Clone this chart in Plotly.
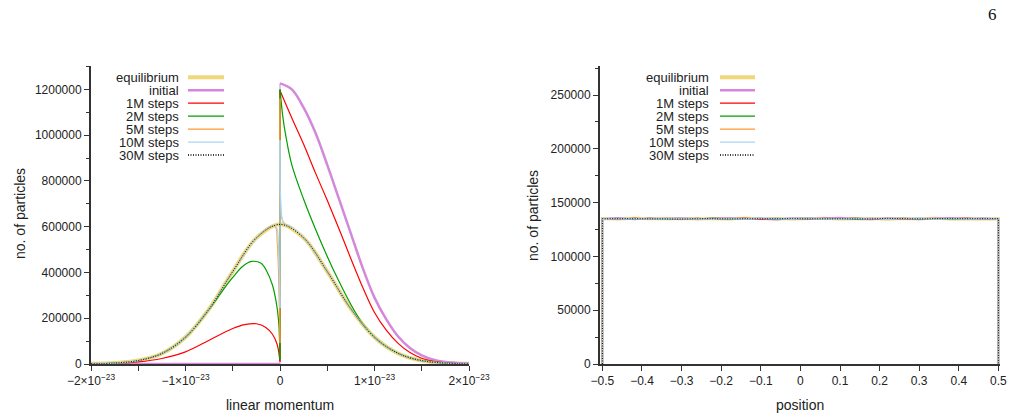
import plotly.graph_objects as go

# ---------------- left panel: momentum distribution (momentum in units of 1e-23) ----------------
eq_p = [-2.0, -1.75, -1.5, -1.25, -1.0, -0.75, -0.5, -0.25, 0.0, 0.25, 0.5, 0.75, 1.0, 1.25, 1.5, 1.75, 2.0]
eq_n = [800, 3900, 15000, 46000, 117000, 241000, 404000, 551000, 611000, 551000, 404000, 241000, 117000, 46000, 15000, 3900, 800]

init_neg_p = [-2.0, 0.0]
init_neg_n = [0, 0]
init_pos_p = [0.0, 0.125, 0.25, 0.375, 0.5, 0.625, 0.75, 0.875, 1.0, 1.125, 1.25, 1.375, 1.5, 1.625, 1.75, 1.875, 2.0]
init_pos_n = [1226000, 1200000, 1120000, 1010000, 870000, 720000, 570000, 420000, 290000, 195000, 120000, 70000, 38000, 19000, 9000, 4000, 2000]

m1_neg_p = [-2.0, -1.75, -1.5, -1.25, -1.0, -0.75, -0.5, -0.375, -0.25, -0.15, -0.08, -0.03, 0.0]
m1_neg_n = [500, 3000, 9000, 24000, 53000, 104000, 155000, 172000, 176000, 160000, 130000, 85000, 10000]
m1_pos_p = [0.0, 0.125, 0.25, 0.375, 0.5, 0.625, 0.75, 0.875, 1.0, 1.125, 1.25, 1.375, 1.5, 1.625, 1.75, 1.875, 2.0]
m1_pos_n = [1195000, 1075000, 960000, 835000, 715000, 590000, 460000, 335000, 225000, 148000, 90000, 50000, 25000, 12000, 5000, 2000, 1000]

m2_neg_p = [-2.0, -1.75, -1.5, -1.25, -1.0, -0.75, -0.6, -0.5, -0.4, -0.3, -0.2, -0.14, -0.08, -0.04, -0.015, 0.0]
m2_neg_n = [800, 3900, 15000, 46000, 117000, 239000, 325000, 378000, 425000, 448000, 440000, 405000, 345000, 270000, 190000, 20000]
m2_pos_p = [0.0, 0.03, 0.06, 0.125, 0.25, 0.375, 0.5, 0.625, 0.75, 0.875, 1.0, 1.125, 1.25, 1.375, 1.5, 1.75, 2.0]
m2_pos_n = [1200000, 1080000, 1000000, 870000, 720000, 590000, 470000, 360000, 260000, 175000, 117000, 76000, 47000, 27000, 15000, 4000, 800]

m5_neg_p = [-2.0, -1.75, -1.5, -1.25, -1.0, -0.75, -0.5, -0.25, -0.1, -0.05, -0.03, -0.018, -0.008, 0.0]
m5_neg_n = [800, 3900, 15000, 46000, 117000, 241000, 404000, 551000, 600000, 598000, 530000, 425000, 250000, 92000]
m5_pos_p = [0.0, 0.01, 0.03, 0.06, 0.1, 0.25, 0.5, 0.75, 1.0, 1.25, 1.5, 1.75, 2.0]
m5_pos_n = [1160000, 660000, 625000, 610000, 603000, 551000, 404000, 241000, 117000, 46000, 15000, 3900, 800]

m10_neg_p = [-2.0, -1.75, -1.5, -1.25, -1.0, -0.75, -0.5, -0.25, -0.1, -0.04, -0.015, 0.0]
m10_neg_n = [800, 3900, 15000, 46000, 117000, 241000, 404000, 551000, 603000, 598000, 480000, 245000]
m10_pos_p = [0.0, 0.01, 0.04, 0.1, 0.25, 0.5, 0.75, 1.0, 1.25, 1.5, 1.75, 2.0]
m10_pos_n = [978000, 700000, 612000, 604000, 551000, 404000, 241000, 117000, 46000, 15000, 3900, 800]

m30_p = [-2.0, -1.75, -1.5, -1.25, -1.0, -0.75, -0.5, -0.25, 0.0, 0.25, 0.5, 0.75, 1.0, 1.25, 1.5, 1.75, 2.0]
m30_n = [800, 3900, 15000, 46000, 117000, 241000, 404000, 551000, 610000, 551000, 404000, 241000, 117000, 46000, 15000, 3900, 800]

mom_tickvals = [-2.0, -1.0, 0.0, 1.0, 2.0]
mom_ticktext = ["\u22122\u00d710<sup>\u221223</sup>", "\u22121\u00d710<sup>\u221223</sup>", "0",
                "1\u00d710<sup>\u221223</sup>", "2\u00d710<sup>\u221223</sup>"]
mom_minor_ticks = [-1.5, -0.5, 0.5, 1.5]

# ---------------- right panel: position distribution ----------------
pos = [-0.5, -0.46, -0.42, -0.38, -0.34, -0.30, -0.26, -0.22, -0.18, -0.14, -0.10, -0.06, -0.02,
       0.02, 0.06, 0.10, 0.14, 0.18, 0.22, 0.26, 0.30, 0.34, 0.38, 0.42, 0.46, 0.5]
edge_count = 0
pos_eq = [135200, 134700, 135400, 134900, 135100, 134600, 135300, 135000, 134800, 135500, 134900, 135200, 134700,
          135100, 135400, 134800, 135000, 135300, 134600, 135200, 134900, 135400, 134800, 135100, 134700, 135000]
pos_init = [134800, 135600, 134500, 135300, 134900, 135700, 134600, 135200, 135800, 134700, 135100, 134400, 135500,
            134900, 135300, 135900, 134800, 134500, 135400, 135000, 134600, 135200, 135700, 134900, 135300, 134800]
pos_m1 = [135100, 134500, 135600, 134800, 135300, 134900, 135500, 134400, 135000, 135600, 134700, 135300, 135000,
          134600, 135400, 134900, 135700, 134800, 135200, 134500, 135300, 134900, 135100, 135600, 134800, 135200]
pos_m2 = [134900, 135400, 134700, 135500, 134600, 135200, 134900, 135600, 134800, 135100, 135500, 134700, 135200,
          135600, 134800, 135100, 134600, 135400, 135000, 135500, 134800, 135300, 134600, 135000, 135400, 134900]
pos_m5 = [135300, 134800, 135100, 134600, 135500, 135000, 134700, 135300, 135500, 134900, 135200, 135600, 134800,
          135300, 134700, 135200, 135400, 134900, 135600, 134700, 135100, 134600, 135300, 134800, 135100, 135300]
pos_m10 = [134700, 135200, 135000, 135400, 134800, 135500, 135100, 134600, 135300, 134800, 135600, 135000, 134900,
           135400, 135100, 134600, 135300, 135500, 134900, 135200, 135600, 134800, 135000, 135400, 135200, 134800]
pos_m30 = [135000, 135100, 134900, 135200, 135000, 134800, 135100, 135300, 134900, 135000, 135200, 134900, 135100,
           135000, 134800, 135200, 135100, 134900, 135300, 135000, 134900, 135100, 135200, 134900, 135000, 135100]
pos_tickvals = [-0.5, -0.4, -0.3, -0.2, -0.1, 0.0, 0.1, 0.2, 0.3, 0.4, 0.5]
pos_ticktext = ["\u22120.5", "\u22120.4", "\u22120.3", "\u22120.2", "\u22120.1", "0", "0.1", "0.2", "0.3", "0.4", "0.5"]

labels = ["equilibrium", "initial", "1M steps", "2M steps", "5M steps", "10M steps", "30M steps"]
colors = ["#f0d878", "#d488dc", "#ff0000", "#00a000", "#ff9933", "#a8d8f0", "#000000"]
widths_left = [4, 2.5, 1.2, 1.2, 1.0, 1.2, 1.0]
widths_right = [3, 2, 1, 1, 1, 1.6, 1]
DOT = "1px,1.5px"
dashes = ["solid"] * 6 + [DOT]

FONT = "Liberation Sans, Arial, Helvetica, sans-serif"
W, H = 1013, 420

fig = go.Figure()


def spline(x, y, i):
    fig.add_trace(go.Scatter(x=x, y=y, mode="lines", xaxis="x", yaxis="y", showlegend=False, hoverinfo="skip",
                             line=dict(color=colors[i], width=widths_left[i], dash=dashes[i], shape="spline", smoothing=1)))


def connector(neg_p, neg_n, pos_p, pos_n, i, w=None):
    fig.add_trace(go.Scatter(x=[neg_p[-1], pos_p[0]], y=[neg_n[-1], pos_n[0]], mode="lines", showlegend=False,
                             hoverinfo="skip",
                             line=dict(color=colors[i], width=w if w else widths_left[i], dash=dashes[i])))


# equilibrium
spline(eq_p, eq_n, 0)
# initial
spline(init_neg_p, init_neg_n, 1)
connector(init_neg_p, init_neg_n, init_pos_p, init_pos_n, 1, w=1)
spline(init_pos_p, init_pos_n, 1)
# evolving series
for i, (np_, nn, pp, pn) in enumerate([(m1_neg_p, m1_neg_n, m1_pos_p, m1_pos_n),
                                       (m2_neg_p, m2_neg_n, m2_pos_p, m2_pos_n),
                                       (m5_neg_p, m5_neg_n, m5_pos_p, m5_pos_n),
                                       (m10_neg_p, m10_neg_n, m10_pos_p, m10_pos_n)], start=2):
    spline(np_, nn, i)
    connector(np_, nn, pp, pn, i)
    spline(pp, pn, i)
spline(m30_p, m30_n, 6)

# right panel
for i, vals in enumerate([pos_eq, pos_init, pos_m1, pos_m2, pos_m5, pos_m10, pos_m30]):
    fig.add_trace(go.Scatter(x=[pos[0]] + pos + [pos[-1]], y=[edge_count] + vals + [edge_count],
                             mode="lines", xaxis="x2", yaxis="y2", showlegend=False, hoverinfo="skip",
                             line=dict(color=colors[i], width=widths_right[i], dash=dashes[i])))

ax_common = dict(showgrid=False, zeroline=False, showline=True, linecolor="#333333", linewidth=2,
                 ticks="outside", ticklen=5, tickwidth=1, tickcolor="#333333", layer="below traces",
                 automargin=False,
                 tickfont=dict(family=FONT, size=12, color="#222222"), fixedrange=True)

ytop, ybot = 66, 364
fig.update_layout(
    width=W, height=H, autosize=False, margin=dict(l=0, r=0, t=0, b=0, pad=0, autoexpand=False),
    paper_bgcolor="white", plot_bgcolor="white", showlegend=False,
    font=dict(family=FONT, color="#222222"),
    xaxis=dict(domain=[91 / W, 469 / W], range=[-2, 2], tickmode="array", tickvals=mom_tickvals,
               ticktext=mom_ticktext, anchor="y",
               minor=dict(tickmode="array", tickvals=mom_minor_ticks, ticklen=5, ticks="outside",
                          tickcolor="#333333", showgrid=False),
               **ax_common),
    yaxis=dict(domain=[1 - ybot / H, 1 - ytop / H], range=[0, 1302000], tickmode="linear", tick0=0, dtick=200000,
               tickformat="d", anchor="x",
               minor=dict(dtick=100000, ticklen=3, ticks="outside", tickcolor="#333333", showgrid=False),
               **ax_common),
    xaxis2=dict(domain=[600 / W, 1000 / W], range=[-0.506, 0.504], tickmode="array", tickvals=pos_tickvals,
                ticktext=pos_ticktext, anchor="y2", **ax_common),
    yaxis2=dict(domain=[1 - ybot / H, 1 - ytop / H], range=[0, 277000], tickmode="linear", tick0=0, dtick=50000,
                tickformat="d", anchor="x2",
                minor=dict(dtick=25000, ticklen=3, ticks="outside", tickcolor="#333333", showgrid=False),
                **ax_common),
)

ann = []
shapes = []


def px_ann(text, x, y, size=14, angle=0, xanchor="center", family=FONT, color="#222222"):
    ann.append(dict(text=text, x=x / W, y=1 - y / H, xref="paper", yref="paper", showarrow=False,
                    xanchor=xanchor, yanchor="middle", textangle=angle,
                    font=dict(family=family, size=size, color=color)))


px_ann("linear momentum", 280, 405)
px_ann("no. of particles", 20, 214, angle=-90)
px_ann("position", 800, 405)
px_ann("no. of particles", 533, 216, angle=-90)
px_ann("6", 992, 15, size=17, family="Liberation Serif, DejaVu Serif, serif", color="#111111")

# manual legends (key line to the right of the label)
for (tx, lx0, lx1) in [(181, 188, 224), (711, 720, 755)]:
    for k, lab in enumerate(labels):
        yy = 77.3 + 12.95 * k
        px_ann(lab, tx, yy + 0.5, size=13, xanchor="right")
        shapes.append(dict(type="line", xref="paper", yref="paper", x0=lx0 / W, x1=lx1 / W,
                           y0=1 - yy / H, y1=1 - yy / H,
                           line=dict(color=colors[k], width=widths_left[k] if k < 2 else 1.3, dash=dashes[k])))

fig.update_layout(annotations=ann, shapes=shapes)
fig.write_html("out.html")
